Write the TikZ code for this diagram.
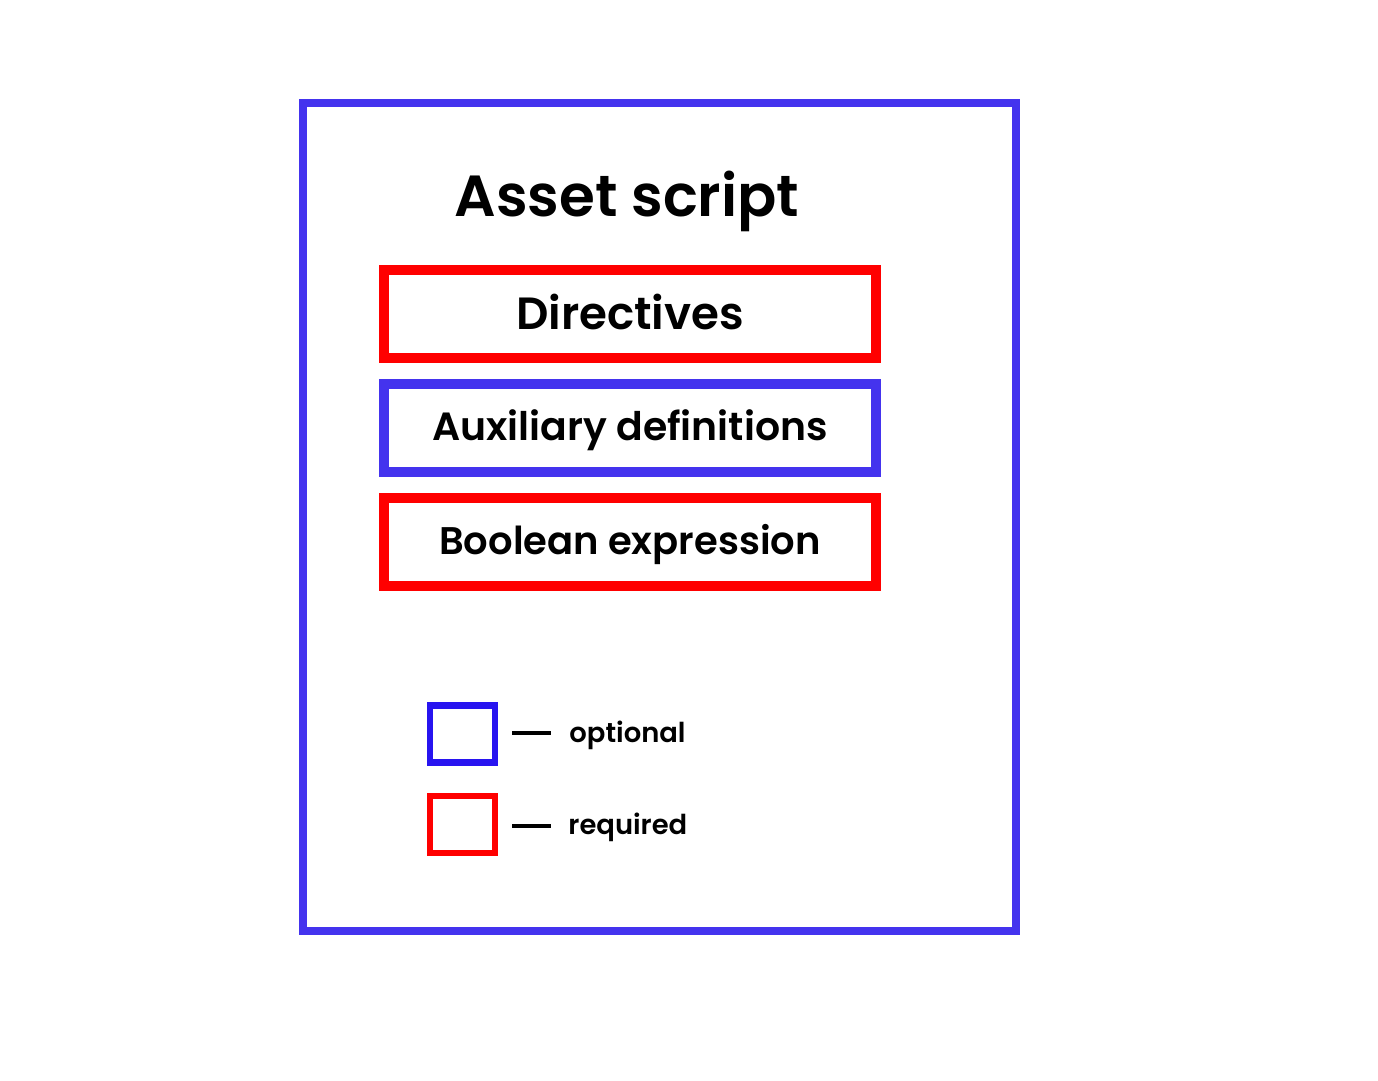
\documentclass[tikz,border=0pt]{standalone}
\usepackage{fontspec}
\setmainfont{Poppins}[UprightFont=*-Medium,BoldFont=*-SemiBold]
\usepackage{xcolor}

\definecolor{outerblue}{RGB}{68,51,238}
\definecolor{optblue}{RGB}{40,20,240}
\definecolor{reqred}{RGB}{255,0,0}

\begin{document}
\begin{tikzpicture}[
    part/.style={draw, line width=2.85pt, minimum width=4.92cm, minimum height=0.875cm, inner sep=0pt, text depth=0pt},
    keybox/.style={draw, line width=1.85pt, minimum width=0.65cm, minimum height=0.57cm, inner sep=0pt},
    keytext/.style={anchor=west, font=\fontsize{7.8}{9}\selectfont\bfseries}
]
\useasboundingbox (0,0) rectangle (13.78,-10.80);

% Define the outer frame
\node[draw=outerblue, line width=2.28pt, minimum width=7.125cm, minimum height=8.28cm, inner sep=0pt] (script) at (6.593,-5.17) {};
\node[anchor=base, font=\fontsize{16.5}{19}\selectfont\bfseries] (title) at (6.27,-2.17) {Asset script};

% Define the parts of the script
\node[part, draw=reqred, text height=3.2mm, font=\fontsize{12.85}{15}\selectfont\bfseries] (directives) at (6.30,-3.14) {Directives};
\node[part, draw=outerblue, text height=2.5mm, font=\fontsize{11.2}{13}\selectfont\bfseries] (auxiliary) at (6.30,-4.28) {Auxiliary definitions};
\node[part, draw=reqred, text height=2.4mm, font=\fontsize{10.95}{13}\selectfont\bfseries] (boolean) at (6.30,-5.42) {Boolean expression};

% Define the legend
\node[keybox, draw=optblue] (optkey) at (4.625,-7.34) {};
\node[keybox, draw=reqred] (reqkey) at (4.625,-8.245) {};
\coordinate (optA) at (5.12,-7.33);
\coordinate (optB) at (5.51,-7.33);
\coordinate (reqA) at (5.12,-8.26);
\coordinate (reqB) at (5.51,-8.26);
\draw[line width=0.9pt] (optA) -- (optB);
\draw[line width=0.9pt] (reqA) -- (reqB);
\node[keytext] (opttext) at (5.57,-7.35) {optional};
\node[keytext] (reqtext) at (5.56,-8.27) {required};

\end{tikzpicture}
\end{document}
